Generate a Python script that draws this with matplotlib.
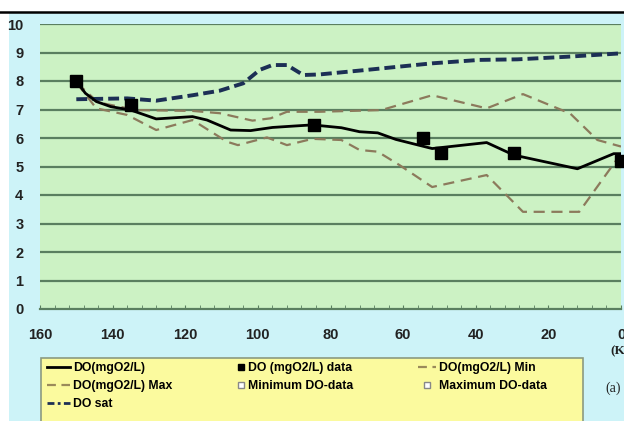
import matplotlib
matplotlib.use("Agg")
import matplotlib.pyplot as plt
from matplotlib.lines import Line2D
from matplotlib.patches import Rectangle

# ---------------- data ----------------
do_km = [150, 147.5, 144.5, 140.5, 135, 128, 118, 114, 107.5, 102, 96, 90, 85, 77, 72, 67, 62, 52, 37, 29.5, 12, 2, 0]
do_val = [8.0, 7.57, 7.28, 7.1, 6.98, 6.67, 6.75, 6.63, 6.28, 6.26, 6.37, 6.42, 6.46, 6.36, 6.22, 6.18, 5.95, 5.63, 5.84, 5.4, 4.92, 5.45, 5.45]

data_km = [150, 135, 84.5, 54.5, 49.5, 29.5, 0]
data_val = [8.0, 7.16, 6.46, 6.0, 5.46, 5.46, 5.2]

min_km = [150, 144.5, 136, 128, 118, 108.5, 105.5, 97.5, 92, 85, 77, 72, 67, 61, 52, 37, 27, 11.5, 0]
min_val = [7.95, 7.04, 6.81, 6.28, 6.63, 5.87, 5.75, 6.02, 5.75, 5.97, 5.93, 5.58, 5.52, 5.05, 4.28, 4.7, 3.41, 3.41, 5.45]

max_km = [150, 144, 133.5, 118, 110.5, 101.5, 96.5, 92, 83, 66, 52, 37, 27, 14, 6.5, 0]
max_val = [7.95, 7.25, 6.98, 6.95, 6.87, 6.61, 6.69, 6.92, 6.92, 6.98, 7.5, 7.04, 7.54, 6.86, 5.93, 5.7]

sat_km = [150, 136, 128, 118, 110.5, 104, 99.5, 96, 92, 87.5, 83, 70, 52, 39, 28.5, 15, 0]
sat_val = [7.36, 7.39, 7.31, 7.5, 7.66, 7.92, 8.39, 8.56, 8.56, 8.21, 8.23, 8.39, 8.62, 8.74, 8.76, 8.85, 8.97]

x_ticks = [160, 140, 120, 100, 80, 60, 40, 20, 0]
y_ticks = [0, 1, 2, 3, 4, 5, 6, 7, 8, 9, 10]

labels = ["DO(mgO2/L)", "DO (mgO2/L) data", "DO(mgO2/L) Min",
          "DO(mgO2/L) Max", "Minimum DO-data", "Maximum DO-data", "DO sat"]

# ---------------- style ----------------
W, H = 624, 421
FONT = ["Liberation Sans Narrow", "Liberation Sans", "DejaVu Sans"]
cyan = "#cdf3f8"
green = "#ccf2c4"
gridc = "#5a7f60"
brown = "#8c7a5c"
navy = "#1c2f55"

fig = plt.figure(figsize=(W / 100, H / 100), dpi=100, facecolor="white")

# background panel and top rule
fig.patches.append(Rectangle((9 / W, 0), 1, 1 - 12 / H, transform=fig.transFigure,
                             facecolor=cyan, edgecolor="none", zorder=-5))
fig.add_artist(Line2D([0, 1], [1 - 11.5 / H, 1 - 11.5 / H], transform=fig.transFigure,
                      color="black", lw=1.8))

ax = fig.add_axes([40 / W, 1 - 309 / H, (621 - 40) / W, (309 - 24) / H])
ax.set_zorder(2)
ax.set_facecolor(green)
ax.set_xlim(160, 0)
ax.set_ylim(0, 10)
for s in ax.spines.values():
    s.set_visible(False)
ax.spines["bottom"].set_visible(True)
ax.spines["bottom"].set_color(gridc)
ax.spines["bottom"].set_linewidth(1.6)

for yv in y_ticks[1:]:
    ax.axhline(yv, color=gridc, lw=1.6, zorder=1)

ax.set_xticks(x_ticks)
ax.set_xticks([v for v in range(0, 161, 4)], minor=True)
ax.set_yticks(y_ticks)
ax.tick_params(axis="y", length=0, pad=12)
ax.tick_params(axis="x", which="both", direction="in", length=3, color=gridc, pad=14)
for lab in ax.get_xticklabels() + ax.get_yticklabels():
    lab.set_fontfamily(FONT)
    lab.set_fontweight("bold")
    lab.set_fontsize(10.5)
    lab.set_color("#222222")

l_min, = ax.plot(min_km, min_val, color=brown, lw=1.6, dashes=(5, 3), zorder=3)
l_max, = ax.plot(max_km, max_val, color=brown, lw=1.6, dashes=(5, 3), zorder=3)
l_sat, = ax.plot(sat_km, sat_val, color=navy, lw=2.8, dashes=(2.8, 1.3), zorder=4)
l_do, = ax.plot(do_km, do_val, color="black", lw=2.0, zorder=5)
l_data, = ax.plot(data_km, data_val, ls="none", marker="s", ms=8.5, color="black", zorder=6, clip_on=False)

# legend box
fig.patches.append(Rectangle((41 / W, -0.05), (583 - 41) / W, 0.05 + 1 - 358 / H,
                             transform=fig.transFigure, facecolor="#fbfa9e",
                             edgecolor="#8c9a80", lw=1.2, zorder=1))

h_do = Line2D([], [], color="black", lw=2.0)
h_max = Line2D([], [], color="#9a8a5a", lw=1.6, dashes=(4, 2.5))
h_min = Line2D([], [], color="#9a8a5a", lw=1.6, dashes=(4, 2.5))
h_sat = Line2D([], [], color=navy, lw=2.0, dashes=(2.5, 1.2, 1, 1.2))
h_data = Line2D([], [], ls="none", marker="s", ms=5, color="black")
h_mind = Line2D([], [], ls="none", marker="s", ms=5, mfc="white", mec="#888888")
h_maxd = Line2D([], [], ls="none", marker="s", ms=5, mfc="white", mec="#888888")

lp = dict(prop={"family": FONT, "weight": "bold", "size": 8.8}, frameon=False,
          borderpad=0, borderaxespad=0, labelspacing=0.5, handletextpad=0.2,
          loc="upper left")
leg1 = fig.legend([h_do, h_max, h_sat], [labels[0], labels[3], labels[6]],
                  bbox_to_anchor=(47 / W, 1 - 362 / H), handlelength=1.9, **lp)
leg2 = fig.legend([h_data, h_mind], [labels[1], labels[4]],
                  bbox_to_anchor=(236 / W, 1 - 362 / H), handlelength=0.8, **lp)
leg3 = fig.legend([h_min, h_maxd], [labels[2], labels[5]],
                  bbox_to_anchor=(418 / W, 1 - 362 / H), handlelength=1.5, **lp)

fig.text(610 / W, 1 - 351 / H, "(KM)", family=["Liberation Serif", "DejaVu Serif"],
         weight="bold", fontsize=9.5, va="center", ha="left", color="#222222")
fig.text(605 / W, 1 - 388 / H, "(a)", family=["Liberation Serif", "DejaVu Serif"],
         fontsize=10, va="center", ha="left", color="#222222")

fig.savefig("out.png", dpi=100, facecolor=fig.get_facecolor())
